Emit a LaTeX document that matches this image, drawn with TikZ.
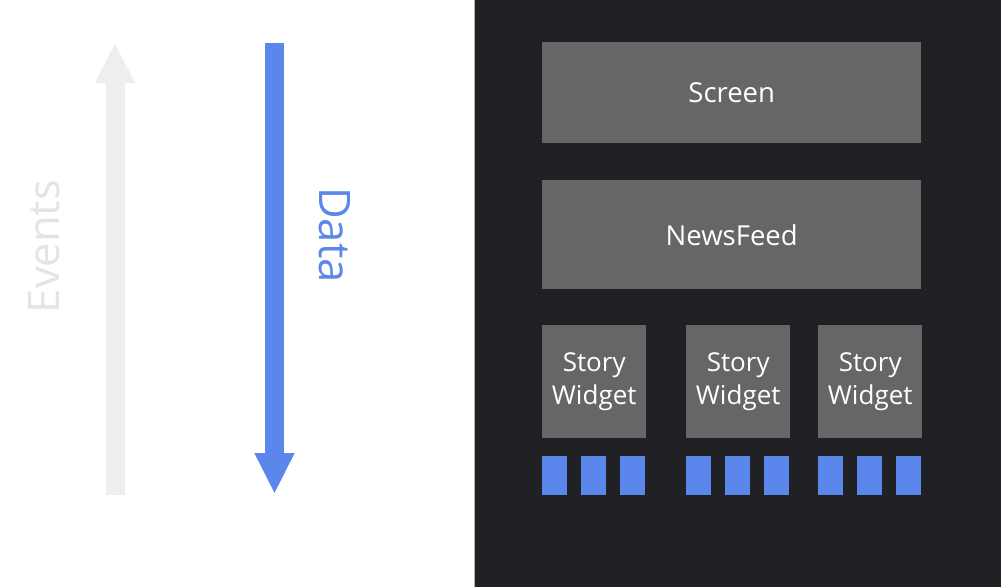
\documentclass[tikz,border=0pt]{standalone}
\usepackage{fontspec}
\setmainfont{Open Sans}
\usetikzlibrary{arrows.meta}
\definecolor{panel}{HTML}{202124}
\definecolor{boxgray}{HTML}{666666}
\definecolor{flowblue}{HTML}{5B86EC}
\definecolor{evgray}{HTML}{EEEEEE}
\definecolor{evtext}{HTML}{E4E4E4}
\begin{document}
\begin{tikzpicture}[x=1pt,y=-1pt,
  widget/.style={fill=boxgray, draw=none, anchor=north west, inner sep=0pt,
    text=white, font=\fontsize{26}{32.5}\selectfont, align=center},
  leaf/.style={fill=flowblue, draw=none, anchor=north west, inner sep=0pt,
    minimum width=25pt, minimum height=39pt},
  flow/.style={line width=19pt, line cap=butt}]
  % canvas and dark device panel
  \fill[white] (0,0) rectangle (1001,587);
  \useasboundingbox (0,0) rectangle (1001,587);
  \fill[panel] (474,0) rectangle (1001,587);
  \draw[gray!60, line width=0.8pt] (474.4,0) -- (474.4,587);

  % widget tree
  \node[widget, minimum width=379pt, minimum height=101pt] (screen) at (542,42)
    {\fontsize{27.5}{32}\selectfont Screen};
  \node[widget, minimum width=379pt, minimum height=109pt] (feed) at (542,180)
    {\fontsize{27.5}{32}\selectfont NewsFeed};
  \node[widget, minimum width=104pt, minimum height=113pt] (s1) at (542,325) {Story\\Widget};
  \node[widget, minimum width=104pt, minimum height=113pt] (s2) at (686,325) {Story\\Widget};
  \node[widget, minimum width=104pt, minimum height=113pt] (s3) at (818,325) {Story\\Widget};

  % leaf widgets under each story
  \foreach \n/\x in {a/542,b/581,c/620,d/686,e/725,f/764,g/818,h/857,i/896}
    \node[leaf] (leaf\n) at (\x,456) {};

  % direction arrows
  \coordinate (evlow) at (115,495);
  \coordinate (evhigh) at (115,43);
  \draw[flow, evgray, -{Triangle[width=37pt,length=40pt]}] (evlow) -- (evhigh);
  \coordinate (datahigh) at (274.5,43);
  \coordinate (datalow) at (274.5,494);
  \draw[flow, flowblue, -{Triangle[width=37pt,length=41pt]}] (datahigh) -- (datalow);

  \node[rotate=90, text=evtext, font=\fontsize{43.5}{48}\selectfont] (events) at (44,246.5) {Events};
  \node[rotate=-90, text=flowblue, font=\fontsize{43.5}{48}\selectfont] (data) at (335,235) {Data};
\end{tikzpicture}
\end{document}
